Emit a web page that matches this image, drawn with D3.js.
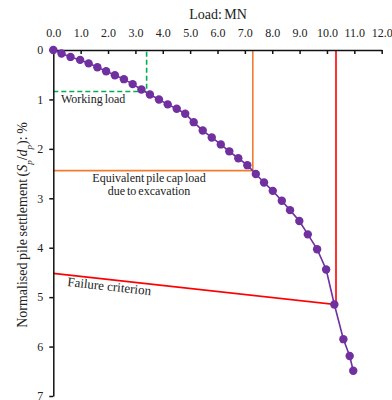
<!DOCTYPE html>
<html>
<head>
<meta charset="utf-8">
<script src="https://cdn.jsdelivr.net/npm/d3@7"></script>
<style>
  body { margin: 0; background: #fff; }
  svg text { font-family: 'Liberation Serif', serif; fill: #222; }
</style>
</head>
<body>
<script>
// load (MN) and normalised settlement (%)
loadValues = [0.00, 0.30, 0.63, 0.98, 1.29, 1.61, 1.93, 2.25, 2.58, 2.90, 3.22, 3.53, 3.86, 4.18, 4.51, 4.82,
              5.13, 5.46, 5.79, 6.12, 6.43, 6.76, 7.09, 7.40, 7.70, 8.02, 8.35, 8.65, 8.99, 9.30, 9.64, 9.97,
              10.27, 10.60, 10.83, 10.96];
settleValues = [0.00, 0.07, 0.14, 0.20, 0.27, 0.35, 0.43, 0.51, 0.59, 0.69, 0.80, 0.90, 1.00, 1.10, 1.19, 1.29,
                1.46, 1.63, 1.77, 1.91, 2.05, 2.19, 2.33, 2.51, 2.68, 2.85, 3.05, 3.24, 3.46, 3.73, 4.03, 4.44,
                5.15, 5.85, 6.19, 6.49];
xTicks = [0, 1, 2, 3, 4, 5, 6, 7, 8, 9, 10, 11, 12];
yTicks = [0, 1, 2, 3, 4, 5, 6, 7];

workingLoad = [3.41, 0.84];
capLoad = [7.29, 2.44];
failurePoint = [10.33, 5.15];
failureStart = 4.52;   // settlement where the failure criterion line meets the axis

var width = 392, height = 400;
var serif = "'Liberation Serif', serif";

var svg = d3.select("body")
    .append("svg")
    .attr("width", width)
    .attr("height", height);

var x = d3.scaleLinear().domain([0, 12]).range([53.3, 381.7]);
var y = d3.scaleLinear().domain([0, 7]).range([50, 396]);

// guide lines
var guides = svg.append("g").attr("fill", "none");

guides.append("path")
    .attr("d", d3.line()([[x(0), y(workingLoad[1])], [x(workingLoad[0]), y(workingLoad[1])], [x(workingLoad[0]), y(0)]]))
    .attr("stroke", "#00B050")
    .attr("stroke-width", 1.6)
    .attr("stroke-dasharray", "5,3");

guides.append("path")
    .attr("d", d3.line()([[x(0), y(capLoad[1])], [x(capLoad[0]), y(capLoad[1])], [x(capLoad[0]), y(0)]]))
    .attr("stroke", "#ED7D31")
    .attr("stroke-width", 1.6);

guides.append("path")
    .attr("d", d3.line()([[x(0), y(failureStart)], [x(failurePoint[0]), y(failurePoint[1])], [x(failurePoint[0]), y(0)]]))
    .attr("stroke", "#FF0000")
    .attr("stroke-width", 1.6);

// axes
var xAxis = d3.axisTop(x)
    .tickValues(xTicks)
    .tickFormat(d3.format(".1f"))
    .tickSizeInner(-4)
    .tickSizeOuter(0)
    .tickPadding(13);

var yAxis = d3.axisLeft(y)
    .tickValues(yTicks)
    .tickFormat(d3.format("d"))
    .tickSizeInner(4)
    .tickSizeOuter(0)
    .tickPadding(6);

var gx = svg.append("g").attr("transform", "translate(0," + y(0) + ")").call(xAxis);
var gy = svg.append("g").attr("transform", "translate(" + x(0) + ",0)").call(yAxis);

[gx, gy].forEach(function(g) {
    g.attr("font-family", serif);
    g.selectAll("path, line").attr("stroke", "#111").attr("stroke-width", 1.5);
    g.selectAll("text")
        .style("font-family", serif)
        .style("font-size", "12px")
        .attr("fill", "#222");
});

// the load settlement curve
var pts = loadValues.map(function(d, i) { return [d, settleValues[i]]; });

svg.append("path")
    .datum(pts)
    .attr("fill", "none")
    .attr("stroke", "#7030A0")
    .attr("stroke-width", 1.6)
    .attr("d", d3.line().x(d => x(d[0])).y(d => y(d[1])));

svg.selectAll("circle.pt")
    .data(pts)
    .enter()
    .append("circle")
    .attr("class", "pt")
    .attr("cx", d => x(d[0]))
    .attr("cy", d => y(d[1]))
    .attr("r", 4.2)
    .attr("fill", "#7030A0");

// titles and annotations
svg.append("text")
    .attr("x", 218)
    .attr("y", 19)
    .attr("text-anchor", "middle")
    .style("font-family", serif)
    .style("font-size", "14px")
    .style("word-spacing", "-1px")
    .text("Load: MN");

var yt = svg.append("text")
    .attr("transform", "translate(27,225) rotate(-90)")
    .attr("text-anchor", "middle")
    .style("font-family", serif)
    .style("font-size", "14px")
    .style("word-spacing", "-1px");
yt.append("tspan").text("Normalised pile settlement (");
yt.append("tspan").style("font-style", "italic").text("S");
yt.append("tspan").attr("baseline-shift", "sub").style("font-size", "9px").style("font-style", "italic").text("p");
yt.append("tspan").text("/");
yt.append("tspan").style("font-style", "italic").text("d");
yt.append("tspan").attr("baseline-shift", "sub").style("font-size", "9px").style("font-style", "italic").text("p");
yt.append("tspan").text("): %");

svg.append("text")
    .attr("x", 61)
    .attr("y", 103)
    .style("font-family", serif)
    .style("font-size", "12px")
    .style("word-spacing", "-1px")
    .text("Working load");

svg.append("text")
    .attr("x", 149)
    .attr("y", 182)
    .attr("text-anchor", "middle")
    .style("font-family", serif)
    .style("font-size", "12px")
    .style("word-spacing", "-1px")
    .text("Equivalent pile cap load");

svg.append("text")
    .attr("x", 149)
    .attr("y", 195)
    .attr("text-anchor", "middle")
    .style("font-family", serif)
    .style("font-size", "12px")
    .style("word-spacing", "-1px")
    .text("due to excavation");

var ang = Math.atan2(y(failurePoint[1]) - y(failureStart), x(failurePoint[0]) - x(0)) * 180 / Math.PI;
svg.append("text")
    .attr("transform", "translate(67,286) rotate(" + ang + ")")
    .style("font-family", serif)
    .style("font-size", "13px")
    .text("Failure criterion");
</script>
</body>
</html>
